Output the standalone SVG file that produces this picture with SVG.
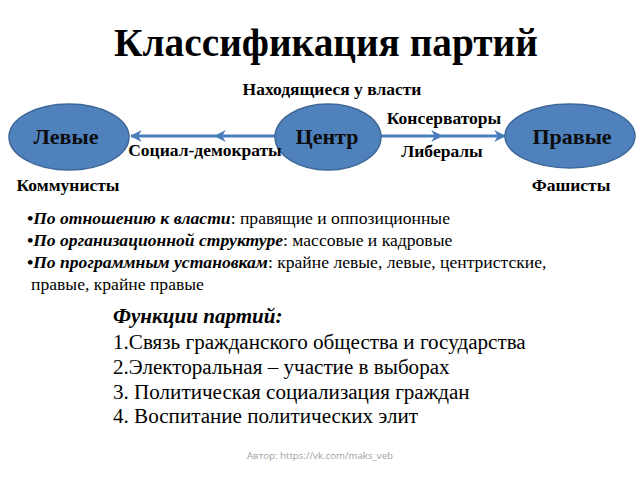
<svg xmlns="http://www.w3.org/2000/svg" width="640" height="480" viewBox="0 0 640 480">
<style>
.t{font-family:'Liberation Serif',serif}
.b{font-weight:bold}
.lab{font-family:'Liberation Serif',serif;font-weight:bold;font-size:17.5px}
.node ellipse{fill:#4f81bd;stroke:#3f6797;stroke-width:1.5}
.node text{font-family:'Liberation Serif',serif;font-weight:bold;font-size:22px;fill:#0d0d0d;text-anchor:middle}
.con{stroke:#4a7ebb;stroke-width:3;fill:none}
.body{font-family:'Liberation Serif',serif;font-size:17.6px}
.fn{font-family:'Liberation Serif',serif;font-size:21.1px}
.bi{font-weight:bold;font-style:italic}
.foot{font-family:'Open Sans',sans-serif;font-size:9.7px;fill:#a0a0a0}
</style>
<defs>
<marker id="ah" viewBox="0 0 10 10" refX="9" refY="5" markerWidth="4" markerHeight="4" orient="auto" markerUnits="strokeWidth">
<path d="M0,0 L10,5 L0,10 L3,5 z" fill="#4a7ebb"/>
</marker>
</defs>
<rect width="640" height="480" fill="#fff"/>
<text class="t b" x="326" y="56" font-size="39.3" text-anchor="middle">Классификация партий</text>
<text class="lab" x="332" y="95" text-anchor="middle">Находящиеся у власти</text>
<g id="connectors">
<path class="con" d="M276,136 L215,136" marker-end="url(#ah)"/>
<path class="con" d="M215,136 L131,136" marker-end="url(#ah)"/>
<path class="con" d="M381,136 L442,136" marker-end="url(#ah)"/>
<path class="con" d="M442,136 L505,136" marker-end="url(#ah)"/>
</g>
<g id="left" class="node"><ellipse cx="69" cy="137" rx="60" ry="33"/><text x="66" y="144">Левые</text></g>
<g id="center" class="node"><ellipse cx="328" cy="137" rx="53" ry="33"/><text x="327" y="144">Центр</text></g>
<g id="right" class="node"><ellipse cx="570" cy="136" rx="65" ry="32"/><text x="572" y="144">Правые</text></g>
<text class="lab" x="205" y="156" text-anchor="middle">Социал-демократы</text>
<text class="lab" x="444" y="124" text-anchor="middle">Консерваторы</text>
<text class="lab" x="442" y="157" text-anchor="middle">Либералы</text>
<text class="lab" x="68" y="191" text-anchor="middle">Коммунисты</text>
<text class="lab" x="571" y="191" text-anchor="middle">Фашисты</text>
<text class="body" x="27" y="224"><tspan class="bi">•По отношению к власти</tspan>: правящие и оппозиционные</text>
<text class="body" x="27" y="246"><tspan class="bi">•По организационной структуре</tspan>: массовые и кадровые</text>
<text class="body" x="27" y="268"><tspan class="bi">•По программным установкам</tspan>: крайне левые, левые, центристские,</text>
<text class="body" x="31" y="290">правые, крайне правые</text>
<text class="fn bi" x="113" y="323">Функции партий:</text>
<text class="fn" x="113" y="349">1.Связь гражданского общества и государства</text>
<text class="fn" x="113" y="374">2.Электоральная – участие в выборах</text>
<text class="fn" x="113" y="399">3. Политическая социализация граждан</text>
<text class="fn" x="113" y="423">4. Воспитание политических элит</text>
<text class="foot" x="320" y="459" text-anchor="middle">Автор: https://vk.com/maks_veb</text>
</svg>
